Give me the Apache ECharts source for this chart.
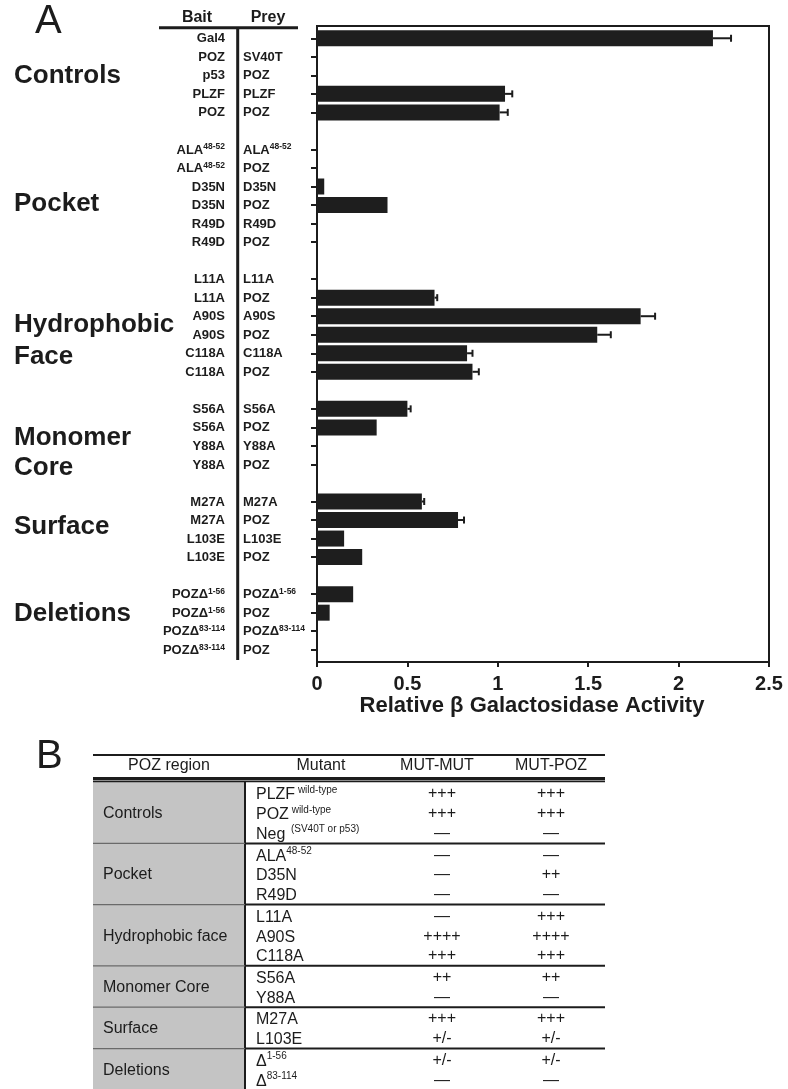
<!DOCTYPE html>
<html><head><meta charset="utf-8">
<script src="https://cdn.jsdelivr.net/npm/echarts/dist/echarts.min.js"></script>
<style>html,body{margin:0;padding:0;background:#fff}#c{width:788px;height:1089px}</style>
</head><body><div id="c"></div>
<script>
const FONT = '"Liberation Sans", Arial, Helvetica, sans-serif';
const INK = '#1c1c1c';

// ---------- Panel A data ----------
const groupLabels = ['Controls', 'Pocket', 'Hydrophobic', 'Face', 'Monomer', 'Core', 'Surface', 'Deletions'];
const baitLabels = ['Gal4','POZ','p53','PLZF','POZ','',
  'ALA^48-52','ALA^48-52','D35N','D35N','R49D','R49D','',
  'L11A','L11A','A90S','A90S','C118A','C118A','',
  'S56A','S56A','Y88A','Y88A','',
  'M27A','M27A','L103E','L103E','',
  'POZΔ^1-56','POZΔ^1-56','POZΔ^83-114','POZΔ^83-114'];
const preyLabels = ['','SV40T','POZ','PLZF','POZ','',
  'ALA^48-52','POZ','D35N','POZ','R49D','POZ','',
  'L11A','POZ','A90S','POZ','C118A','POZ','',
  'S56A','POZ','Y88A','POZ','',
  'M27A','POZ','L103E','POZ','',
  'POZΔ^1-56','POZ','POZΔ^83-114','POZ'];
const activity = [2.19, 0, 0, 1.04, 1.01, null,
  0, 0, 0.04, 0.39, 0, 0, null,
  0, 0.65, 1.79, 1.55, 0.83, 0.86, null,
  0.50, 0.33, 0, 0, null,
  0.58, 0.78, 0.15, 0.25, null,
  0.20, 0.07, 0, 0];
const activityErr = [0.10, 0, 0, 0.04, 0.045, null,
  0, 0, 0, 0, 0, 0, null,
  0, 0.015, 0.08, 0.075, 0.03, 0.035, null,
  0.018, 0, 0, 0, null,
  0.013, 0.033, 0, 0, null,
  0, 0, 0, 0];
const xTickLabels = ['0', '0.5', '1', '1.5', '2', '2.5'];
const xTitle = 'Relative β Galactosidase Activity';

// ---------- Panel B data ----------
const tableHeaders = ['POZ region', 'Mutant', 'MUT-MUT', 'MUT-POZ'];
const regionNames = ['Controls', 'Pocket', 'Hydrophobic face', 'Monomer Core', 'Surface', 'Deletions'];
const regionSizes = [3, 3, 3, 2, 2, 2];
const mutants = ['PLZF^ wild-type', 'POZ^ wild-type', 'Neg^  (SV40T or p53)', 'ALA^48-52', 'D35N', 'R49D',
  'L11A', 'A90S', 'C118A', 'S56A', 'Y88A', 'M27A', 'L103E', 'Δ^1-56', 'Δ^83-114'];
const mutMut = ['+++', '+++', '—', '—', '—', '—', '—', '++++', '+++', '++', '—', '+++', '+/-', '+/-', '—'];
const mutPoz = ['+++', '+++', '—', '—', '++', '—', '+++', '++++', '+++', '++', '—', '+++', '+/-', '+/-', '—'];

function toRich(s, m, sup) {
  if (!s) return '';
  const p = s.split('^');
  if (p.length === 1) return '{' + m + '|' + s + '}';
  return '{' + m + '|' + p[0] + '}{' + sup + '|' + p[1] + '}';
}

const axisRich = {
  b: { fontSize: 13, fontWeight: 'bold', fontFamily: FONT, color: INK, lineHeight: 14, verticalAlign: 'bottom' },
  s: { fontSize: 8.5, fontWeight: 'bold', fontFamily: FONT, color: INK, lineHeight: 9, verticalAlign: 'top' }
};
const idx = baitLabels.map((_, i) => String(i));

// ---------- graphics ----------
const g = [];
function txt(text, x, y, font, align, extra) {
  g.push({ type: 'text', silent: true, style: Object.assign({
    text: text, x: x, y: y, font: font, fill: INK,
    textAlign: align || 'left', align: align || 'left',
    textVerticalAlign: 'middle', verticalAlign: 'middle'
  }, extra || {}) });
}
function line(x1, y1, x2, y2, w, c) {
  g.push({ type: 'line', silent: true, shape: { x1, y1, x2, y2 }, style: { stroke: c || INK, lineWidth: w } });
}
function rect(x, y, w, h, c) {
  g.push({ type: 'rect', silent: true, shape: { x, y, width: w, height: h }, style: { fill: c } });
}

// Panel A decorations
txt('A', 35, 22, 'normal 40px ' + FONT);
const groupY = [75.5, 204, 324.6, 356.5, 437.5, 468, 527, 614];
groupLabels.forEach((t, i) => txt(t, 14, groupY[i], 'bold 26px ' + FONT));
txt('Bait', 197, 18, 'bold 16px ' + FONT, 'center');
txt('Prey', 268, 18, 'bold 16px ' + FONT, 'center');
line(159, 27.7, 298, 27.7, 3);
line(237.7, 27, 237.7, 660, 3);
txt(xTitle, 532, 706, 'bold 22px ' + FONT, 'center');

// Panel B table
txt('B', 36, 757, 'normal 40px ' + FONT);
const colX = [169, 321, 437, 551];
tableHeaders.forEach((t, i) => txt(t, colX[i], 766, 'normal 16px ' + FONT, 'center'));
rect(93, 781.5, 152, 310, '#c4c4c4');
line(93, 755, 605, 755, 2);
rect(93, 777, 512, 3.5, INK);
line(93, 781.7, 605, 781.7, 1.2);
line(245, 781, 245, 1089, 2);

const rowGroup = [];
regionSizes.forEach((n, gi) => { for (let k = 0; k < n; k++) rowGroup.push(gi); });
const rowY = rowGroup.map((gi, i) => 794 + i * 19.8 + gi * 1.8);
const tableRich = {
  m: { fontSize: 16, fontFamily: FONT, color: INK, lineHeight: 18, verticalAlign: 'bottom' },
  s: { fontSize: 10, fontFamily: FONT, color: INK, lineHeight: 10, verticalAlign: 'top' }
};
let start = 0;
regionSizes.forEach((n, gi) => {
  const ys = rowY.slice(start, start + n);
  txt(regionNames[gi], 103, (ys[0] + ys[n - 1]) / 2, 'normal 16px ' + FONT);
  if (gi < regionSizes.length - 1) {
    const sy = (rowY[start + n - 1] + rowY[start + n]) / 2 - 1;
    line(93, sy, 245, sy, 1.2, '#6a6a6a');
    line(245, sy, 605, sy, 2);
  }
  start += n;
});
mutants.forEach((m, i) => {
  txt(toRich(m, 'm', 's'), 256, rowY[i], 'normal 16px ' + FONT, 'left', { rich: tableRich });
  txt(mutMut[i], 442, rowY[i], 'normal 16px ' + FONT, 'center');
  txt(mutPoz[i], 551, rowY[i], 'normal 16px ' + FONT, 'center');
});

// ---------- chart ----------
const chart = echarts.init(document.getElementById('c'), null, { renderer: 'canvas' });
chart.setOption({
  animation: false,
  backgroundColor: '#fff',
  grid: [
    { left: 317, top: 26, width: 452, height: 636, show: true, borderColor: INK, borderWidth: 2, backgroundColor: 'transparent', outerBoundsMode: 'none', containLabel: false },
    { left: 317, top: 29, width: 452, height: 630, show: false, outerBoundsMode: 'none', containLabel: false }
  ],
  xAxis: [
    { gridIndex: 0, type: 'value', min: 0, max: 2.5, interval: 0.5, position: 'bottom',
      axisLine: { show: true, lineStyle: { color: INK, width: 2 } },
      axisTick: { show: true, inside: false, length: 5, lineStyle: { color: INK, width: 2 } },
      axisLabel: { show: true, margin: 12, fontSize: 20, fontWeight: 'bold', fontFamily: FONT, color: INK,
        formatter: v => xTickLabels[Math.round(v / 0.5)] },
      splitLine: { show: false } },
    { gridIndex: 1, type: 'value', min: 0, max: 2.5, show: false }
  ],
  yAxis: [
    { gridIndex: 0, type: 'value', min: 0, max: 1, show: false },
    { gridIndex: 1, type: 'category', inverse: true, data: idx, position: 'left', offset: 0,
      axisLine: { show: false },
      axisTick: { show: true, alignWithLabel: true, inside: false, length: 6,
        interval: (i) => baitLabels[i] !== '', lineStyle: { color: INK, width: 2 } },
      axisLabel: { show: true, interval: 0, margin: 92, align: 'right',
        formatter: (v, i) => toRich(baitLabels[i], 'b', 's'), rich: axisRich },
      splitLine: { show: false } },
    { gridIndex: 1, type: 'category', inverse: true, data: idx, position: 'left', offset: 0,
      axisLine: { show: false }, axisTick: { show: false },
      axisLabel: { show: true, interval: 0, margin: 74, align: 'left',
        formatter: (v, i) => toRich(preyLabels[i], 'b', 's'), rich: axisRich },
      splitLine: { show: false } }
  ],
  series: [
    { type: 'bar', xAxisIndex: 1, yAxisIndex: 1, data: activity, barWidth: 16,
      itemStyle: { color: '#1e1e1e' }, silent: true },
    { type: 'custom', xAxisIndex: 1, yAxisIndex: 1, silent: true,
      encode: { x: 0, y: 1 },
      data: activity.map((v, i) => [v == null ? 0 : v, i, activityErr[i] || 0]),
      renderItem: function (params, api) {
        const v = api.value(0), i = api.value(1), e = api.value(2);
        if (!e) return null;
        const p0 = api.coord([v, i]);
        const p1 = api.coord([v + e, i]);
        return { type: 'group', children: [
          { type: 'line', shape: { x1: p0[0], y1: p0[1], x2: p1[0], y2: p1[1] }, style: { stroke: INK, lineWidth: 2 } },
          { type: 'line', shape: { x1: p1[0], y1: p1[1] - 3.5, x2: p1[0], y2: p1[1] + 3.5 }, style: { stroke: INK, lineWidth: 2 } }
        ] };
      } }
  ],
  graphic: { elements: g }
});
</script>
</body></html>
